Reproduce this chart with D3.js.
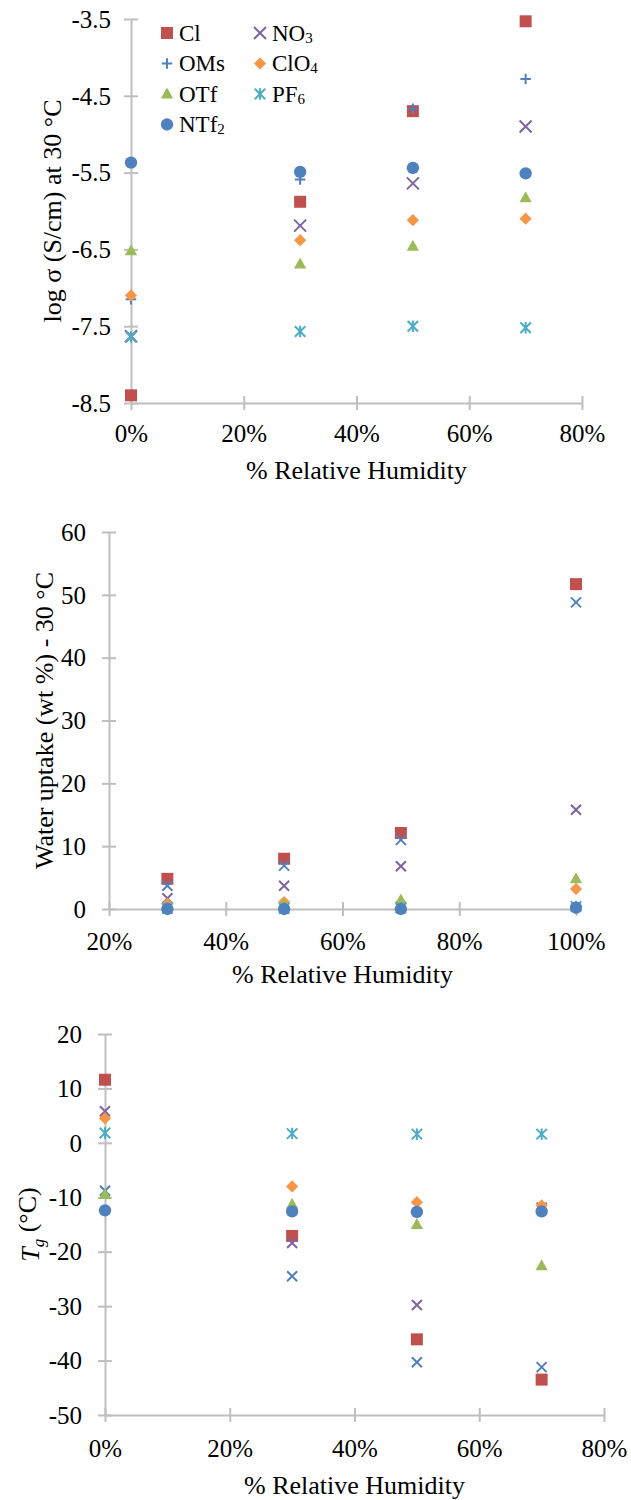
<!DOCTYPE html>
<html>
<head>
<meta charset="utf-8">
<script src="https://cdn.jsdelivr.net/npm/d3@7"></script>
<style>
  html, body { margin: 0; padding: 0; background: #fff; }
  svg { display: block; }
  text { font-family: "Liberation Serif", "Times New Roman", serif; fill: #000; }
</style>
</head>
<body>
<svg id="fig" width="631" height="1500"></svg>
<script>
// Series, in plotting order (the legend reads row by row)
const anions    = ["Cl", "NO3", "OMs", "ClO4", "OTf", "PF6", "NTf2"];
const anionBase = ["Cl", "NO",  "OMs", "ClO",  "OTf", "PF",  "NTf"];
const anionSub  = ["",   "3",   "",    "4",    "",    "6",   "2"];
const colors    = ["#C0504D", "#8064A2", "#4F81BD", "#F79646", "#9BBB59", "#4BACC6", "#4F81BD"];

// Panel 1: ionic conductivity, log sigma (S/cm) at 30 °C
const rhCond = [0, 0.3, 0.5, 0.7];
const logSigma = [
  [-8.40, -5.88, -4.70, -3.53],   // Cl
  [-7.63, -6.19, -5.64, -4.90],   // NO3
  [-7.15, -5.59, -4.67, -4.28],   // OMs
  [-7.10, -6.38, -6.12, -6.10],   // ClO4
  [-6.52, -6.69, -6.46, -5.83],   // OTf
  [-7.64, -7.57, -7.50, -7.52],   // PF6
  [-5.37, -5.49, -5.44, -5.51]    // NTf2
];
const condTicksY = [-3.5, -4.5, -5.5, -6.5, -7.5, -8.5];
const condTicksX = [0, 0.2, 0.4, 0.6, 0.8];

// Panel 2: water uptake (wt %) at 30 °C
const rhUptake = [0.3, 0.5, 0.7, 1.0];
const uptake = [
  [4.8, 8.0, 12.1, 51.7],   // Cl
  [1.7, 3.7, 6.8, 15.8],    // NO3
  [3.7, 6.9, 11.0, 48.8],   // OMs
  [0.8, 1.1, 1.0, 3.2],     // ClO4
  [0.4, 0.7, 1.4, 4.8],     // OTf
  [0.1, 0.1, 0.2, 0.4],     // PF6
  [0.0, 0.0, 0.0, 0.2]      // NTf2
];
const uptakeTicksY = [0, 10, 20, 30, 40, 50, 60];
const uptakeTicksX = [0.2, 0.4, 0.6, 0.8, 1.0];

// Panel 3: glass transition temperature Tg (°C)
const rhTg = [0, 0.3, 0.5, 0.7];
const tg = [
  [11.6, -17.1, -36.1, -43.5],   // Cl
  [5.8, -18.4, -29.8, -11.9],    // NO3
  [-8.8, -24.5, -40.3, -41.2],   // OMs
  [4.5, -8.0, -10.9, -11.5],     // ClO4
  [-9.5, -11.3, -15.0, -22.6],   // OTf
  [1.8, 1.7, 1.6, 1.6],          // PF6
  [-12.4, -12.6, -12.7, -12.6]   // NTf2
];
const tgTicksY = [20, 10, 0, -10, -20, -30, -40, -50];
const tgTicksX = [0, 0.2, 0.4, 0.6, 0.8];

// ---- marker shapes as d3.symbol types (size = full width squared) ----
const half = s => Math.sqrt(s) / 2;
const shapes = {
  square:   { draw(c, s) { const r = half(s); c.rect(-r, -r, 2 * r, 2 * r); } },
  diamond:  { draw(c, s) { const r = half(s); c.moveTo(0, -r); c.lineTo(r, 0); c.lineTo(0, r); c.lineTo(-r, 0); c.closePath(); } },
  triangle: { draw(c, s) { const r = half(s); const h = r * 1.8; c.moveTo(0, -h * 0.6); c.lineTo(r, h * 0.4); c.lineTo(-r, h * 0.4); c.closePath(); } },
  circle:   d3.symbolCircle,
  times:    { draw(c, s) { const r = half(s); c.moveTo(-r, -r); c.lineTo(r, r); c.moveTo(-r, r); c.lineTo(r, -r); } },
  plus:     { draw(c, s) { const r = half(s); c.moveTo(-r, 0); c.lineTo(r, 0); c.moveTo(0, -r); c.lineTo(0, r); } },
  star:     { draw(c, s) { const r = half(s); c.moveTo(-r, -r); c.lineTo(r, r); c.moveTo(-r, r); c.lineTo(r, -r); c.moveTo(0, -r * 1.1); c.lineTo(0, r * 1.1); } }
};
const stroked = new Set(["times", "plus", "star"]);
const shapeSize = { square: 144, diamond: 150, triangle: 150, circle: 120, times: 144, plus: 110, star: 110 };

const svg = d3.select("#fig");
svg.append("rect").attr("width", 631).attr("height", 1500).attr("fill", "#fff");

const AXIS = "#BFBFBF";
const TICK_FONT = 25;
const pct = d3.format(".0%");
// plain hyphen-minus for negative tick labels
const fixed1 = d => d.toFixed(1);
const whole = d => String(d);

function panel(opt) {
  const g = svg.append("g");
  const x = d3.scaleLinear().domain(opt.xDomain).range(opt.xRange);
  const y = d3.scaleLinear().domain(opt.yDomain).range(opt.yRange);
  const x0 = opt.xRange[0], yBase = opt.yRange[0];

  // y axis with cross ticks
  const ya = g.append("g")
    .attr("transform", `translate(${x0},0)`)
    .call(d3.axisLeft(y).tickValues(opt.yTicks).tickFormat(opt.yFmt).tickSizeOuter(0).tickSizeInner(6));
  ya.attr("font-family", null).attr("font-size", null);
  ya.select(".domain").attr("stroke", AXIS).attr("stroke-width", 2);
  ya.selectAll(".tick line").attr("x1", -7).attr("x2", 7).attr("stroke", AXIS).attr("stroke-width", 2);
  ya.selectAll(".tick text").attr("x", -opt.yGap).attr("font-size", TICK_FONT).attr("dy", "0.33em");

  // x axis with cross ticks
  const xa = g.append("g")
    .attr("transform", `translate(0,${yBase})`)
    .call(d3.axisBottom(x).tickValues(opt.xTicks).tickFormat(pct).tickSizeOuter(0).tickSizeInner(6));
  xa.attr("font-family", null).attr("font-size", null);
  xa.select(".domain").attr("stroke", AXIS).attr("stroke-width", 2);
  xa.selectAll(".tick line").attr("y1", -7).attr("y2", 7).attr("stroke", AXIS).attr("stroke-width", 2);
  xa.selectAll(".tick text").attr("y", opt.xGap).attr("dy", "0.33em").attr("font-size", TICK_FONT);

  // axis titles
  g.append("text")
    .attr("x", (opt.xRange[0] + opt.xRange[1]) / 2).attr("y", opt.xTitleY)
    .attr("text-anchor", "middle").attr("dy", "0.33em").attr("font-size", 26)
    .text("% Relative Humidity");
  const yt = g.append("text")
    .attr("transform", `translate(${opt.yTitleX},${(opt.yRange[0] + opt.yRange[1]) / 2}) rotate(-90)`)
    .attr("text-anchor", "middle").attr("dy", "0.33em").attr("font-size", 26);
  opt.yTitle(yt);

  // markers
  const pts = [];
  opt.values.forEach((row, i) => row.forEach((v, j) => pts.push({ s: i, rh: opt.rh[j], v })));
  g.append("g").selectAll("path").data(pts).join("path")
    .attr("transform", d => `translate(${x(d.rh)},${y(d.v)})`)
    .attr("d", d => {
      const k = opt.shapes[d.s];
      return d3.symbol().type(shapes[k]).size(shapeSize[k] * (opt.scale[k] || 1))();
    })
    .attr("fill", d => stroked.has(opt.shapes[d.s]) ? "none" : colors[d.s])
    .attr("stroke", d => stroked.has(opt.shapes[d.s]) ? colors[d.s] : "none")
    .attr("stroke-width", 2);
  return { g, x, y };
}

const shapes1 = ["square", "times", "plus", "diamond", "triangle", "star", "circle"];
const shapes23 = ["square", "times", "times", "diamond", "triangle", "star", "circle"];

// ---- Panel 1 ----
const p1 = panel({
  xDomain: [0, 0.8], xRange: [131, 582],
  yDomain: [-8.5, -3.5], yRange: [403, 19],
  xTicks: condTicksX, yTicks: condTicksY, yFmt: fixed1,
  yGap: 20, xGap: 31, xTitleY: 470, yTitleX: 52,
  rh: rhCond, values: logSigma, shapes: shapes1, scale: {},
  yTitle: t => t.text("log σ (S/cm) at 30 °C")
});

// legend for panel 1 (two columns, row-wise)
const leg = p1.g.append("g");
anions.forEach((a, i) => {
  const col = i % 2, row = Math.floor(i / 2);
  const lx = col === 0 ? 167 : 260;
  const ly = 33 + row * 30.5;
  const k = shapes1[i];
  leg.append("path")
    .attr("transform", `translate(${lx},${ly})`)
    .attr("d", d3.symbol().type(shapes[k]).size(shapeSize[k])())
    .attr("fill", stroked.has(k) ? "none" : colors[i])
    .attr("stroke", stroked.has(k) ? colors[i] : "none")
    .attr("stroke-width", 2);
  const t = leg.append("text").attr("x", lx + 12).attr("y", ly).attr("dy", "0.33em").attr("font-size", 23);
  t.append("tspan").text(anionBase[i]);
  if (anionSub[i]) t.append("tspan").attr("font-size", 15).attr("dy", "0.15em").text(anionSub[i]);
});

// ---- Panel 2 ----
panel({
  xDomain: [0.2, 1.0], xRange: [109, 576],
  yDomain: [0, 60], yRange: [909, 532],
  xTicks: uptakeTicksX, yTicks: uptakeTicksY, yFmt: whole,
  yGap: 23, xGap: 33, xTitleY: 974, yTitleX: 44,
  rh: rhUptake, values: uptake, shapes: shapes23, scale: { times: 0.7 },
  yTitle: t => t.text("Water uptake (wt %) - 30 °C")
});

// ---- Panel 3 ----
panel({
  xDomain: [0, 0.8], xRange: [105, 604],
  yDomain: [-50, 20], yRange: [1415, 1034],
  xTicks: tgTicksX, yTicks: tgTicksY, yFmt: whole,
  yGap: 23, xGap: 34, xTitleY: 1485, yTitleX: 30,
  rh: rhTg, values: tg, shapes: shapes23, scale: { times: 0.7 },
  yTitle: t => {
    t.append("tspan").attr("font-style", "italic").text("T");
    t.append("tspan").attr("font-style", "italic").attr("font-size", 17).attr("dy", "0.3em").text("g");
    t.append("tspan").attr("dy", "-0.3em").text(" (°C)");
  }
});
</script>
</body>
</html>
